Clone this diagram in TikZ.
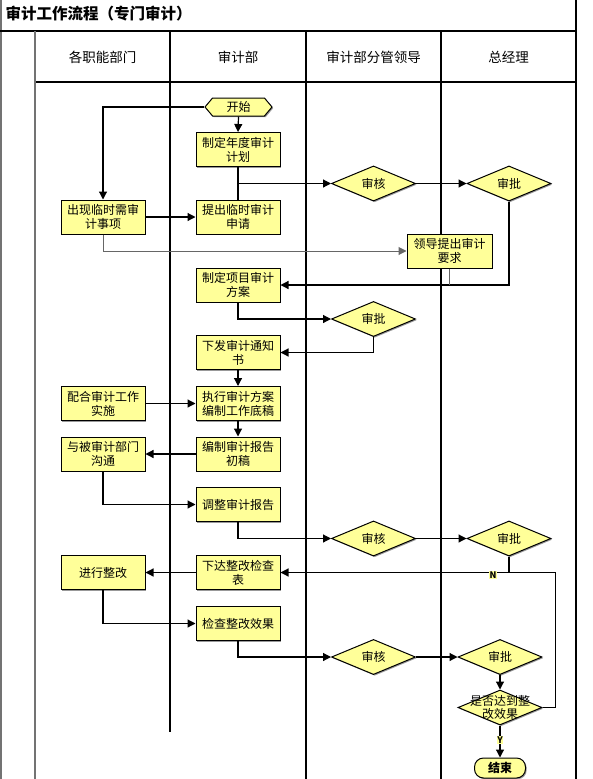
\documentclass[tikz,border=0pt]{standalone}
\usepackage{fontspec}
\setmainfont{Noto Sans CJK SC}
\usetikzlibrary{shapes.geometric,shapes.symbols,arrows.meta,shadows}
\definecolor{boxy}{RGB}{255,255,153}
\begin{document}
\begin{tikzpicture}[x=1pt,y=-1pt,
  shd/.style={drop shadow={shadow xshift=1.2pt,shadow yshift=-1.2pt,fill=black!40,opacity=1}},
  bx/.style={draw=black,line width=1pt,fill=boxy,shd,minimum width=84pt,minimum height=34pt,inner sep=1pt,align=center,font=\fontsize{12}{14}\selectfont},
  dia/.style={diamond,draw=black,line width=1pt,fill=boxy,shd,minimum width=84pt,minimum height=35pt,inner sep=0pt,font=\fontsize{12}{14}\selectfont},
  hexa/.style={signal,signal to=east and west,signal pointer angle=100,draw=black,line width=1pt,fill=boxy,shd,minimum width=67pt,minimum height=18pt,inner sep=0pt,font=\fontsize{12}{14}\selectfont},
  term/.style={rectangle,rounded corners=9pt,draw=black,line width=1pt,fill=boxy,shd,minimum width=51pt,minimum height=20pt,inner sep=0pt,font=\bfseries\fontsize{12}{14}\selectfont},
  hdr/.style={font=\fontsize{13.5}{15}\selectfont},
  lane/.style={line width=1.5pt,black},
  lanegray/.style={line width=1.3pt,black!55},
  con/.style={line width=1.2pt,black},
  arr/.style={con,-{Triangle[length=8pt,width=8pt]}},
  grayarr/.style={line width=1pt,black!60,-{Triangle[length=8pt,width=8pt]}},
  grayline/.style={line width=1pt,black!60},
  yn/.style={fill=boxy,inner sep=0.5pt,font=\bfseries\fontsize{9}{10}\selectfont}
]
\useasboundingbox (0,0) rectangle (592,779);
% frame and lanes
\draw[lanegray] (1,0) -- (1,779);
\draw[lane] (576,0) -- (576,779);
\draw[lane] (0,31) -- (576,31);
\draw[lane] (35,82) -- (576,82);
\draw[lanegray] (35,31) -- (35,779);
\draw[lane] (170,31) -- (170,732);
\draw[lane] (306,31) -- (306,779);
\draw[lane] (441,31) -- (441,779);
\node[anchor=west,font=\bfseries\fontsize{15.5}{17}\selectfont] (title) at (2,14) {审计工作流程（专门审计）};
\node[hdr] (h1) at (102.5,57) {各职能部门};
\node[hdr] (h2) at (238,57) {审计部};
\node[hdr] (h3) at (373.5,57) {审计部分管领导};
\node[hdr] (h4) at (508.5,57) {总经理};
% nodes
\node[hexa] (start) at (238.5,107) {开始};
\node[bx] (n1) at (238,149.5) {制定年度审计\\计划};
\node[bx] (n2) at (238,217) {提出临时审计\\申请};
\node[bx] (a1) at (103,217) {出现临时需审\\计事项};
\node[dia] (d1) at (373.5,183.5) {审核};
\node[dia] (d2) at (509,183.5) {审批};
\node[bx,minimum width=85pt] (l1) at (449.5,251) {领导提出审计\\要求};
\node[bx] (n3) at (238,285) {制定项目审计\\方案};
\node[dia] (d3) at (373.5,319) {审批};
\node[bx] (n4) at (238,352.5) {下发审计通知\\书};
\node[bx] (a2) at (103,403.5) {配合审计工作\\实施};
\node[bx] (n5) at (238,403.5) {执行审计方案\\编制工作底稿};
\node[bx] (n6) at (238,454) {编制审计报告\\初稿};
\node[bx] (a3) at (103,454) {与被审计部门\\沟通};
\node[bx] (n7) at (238,504.5) {调整审计报告};
\node[dia] (d4) at (373.5,538.5) {审核};
\node[dia] (d5) at (509,538.5) {审批};
\node[bx] (n8) at (238,572.5) {下达整改检查\\表};
\node[bx] (a4) at (103,572.5) {进行整改};
\node[bx] (n9) at (238,623.5) {检查整改效果};
\node[dia] (d6) at (373.5,657) {审核};
\node[dia] (d7) at (500,657) {审批};
\node[dia,label={[align=center,font=\fontsize{12}{12.5}\selectfont]center:是否达到整\\改效果}] (d8) at (500,707.5) {};
\node[term] (end) at (500,768) {结束};
% connectors
\draw[arr] (start.west) -| (a1.north);
\draw[arr] (start.south) -- (n1.north);
\draw[con] (n1.south) -- (n2.north);
\draw[arr] (n1.south) |- (d1.west);
\draw[arr] (d1.east) -- (d2.west);
\draw[arr] (a1.east) -- (n2.west);
\draw[grayarr] (a1.south) |- (l1.west);
\draw[arr] (d2.south) |- (n3.east);
\draw[grayline] (l1.south) -- (l1.south |- n3.east);
\draw[arr] (n3.south) |- (d3.west);
\draw[arr] (d3.south) |- (n4.east);
\draw[arr] (n4.south) -- (n5.north);
\draw[arr] (a2.east) -- (n5.west);
\draw[arr] (n5.south) -- (n6.north);
\draw[arr] (n6.west) -- (a3.east);
\draw[arr] (a3.south) |- (n7.west);
\draw[arr] (n7.south) |- (d4.west);
\draw[arr] (d4.east) -- (d5.west);
\draw[con] (d5.south) -- (d5.south |- n8.east);
\draw[arr] (d8.east) -- ++(13,0) |- (n8.east);
\node[yn] (nlab) at (493,575) {N};
\draw[arr] (n8.west) -- (a4.east);
\draw[arr] (a4.south) |- (n9.west);
\draw[arr] (n9.south) |- (d6.west);
\draw[arr] (d6.east) -- (d7.west);
\draw[arr] (d7.south) -- (d8.north);
\draw[arr] (d8.south) -- (end.north) node[pos=0.45,yn] (ylab) {Y};
\end{tikzpicture}
\end{document}
